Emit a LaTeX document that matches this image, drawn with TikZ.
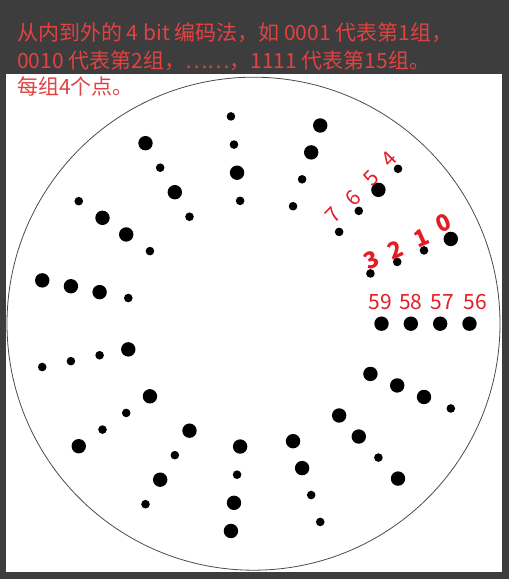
\documentclass[tikz,border=0pt]{standalone}
\usepackage{fontspec}
\setmainfont{Noto Sans CJK SC}
\definecolor{bggray}{RGB}{61,61,61}
\definecolor{notered}{RGB}{226,66,66}
\definecolor{labelred}{RGB}{228,28,36}

\begin{document}
\begin{tikzpicture}[x=1pt,y=1pt,
  note/.style={text=notered,anchor=base west,inner sep=0,font=\fontsize{21}{25}\selectfont},
  lbl/.style={text=labelred,inner sep=0,font=\fontsize{21}{25}\selectfont},
  boldlbl/.style={lbl,font=\fontsize{23}{27}\selectfont\bfseries}]
  \useasboundingbox (0,0) rectangle (509,579);
  \fill[bggray] (0,0) rectangle (509,579);
  \fill[white] (6,7) rectangle (502,505);
  \coordinate (c) at (253.5,255.3);
  \draw[black!70,line width=0.8pt] (c) circle (246.5);
  % 15 groups of 4 dots, inner dot = high bit, big dot = 1
  \foreach \g in {1,...,15}
    \foreach \i in {0,...,3} {
      \pgfmathsetmacro\r{128+29.33*\i}
      \pgfmathsetmacro\px{253.5+\r*cos(24*\g)}
      \pgfmathsetmacro\py{255.3+0.965*\r*sin(24*\g)}
      \pgfmathsetmacro\dotr{4.3+2.9*mod(floor(\g/2^(3-\i)),2)}
      \fill (\px,\py) circle (\dotr);
    }
  \node[note] (line1) at (17,538.5) {从内到外的 4 bit 编码法，如 0001 代表第1组，};
  \node[note] (line2) at (17,510) {0010 代表第2组，……，1111 代表第15组。};
  \node[note] (line3) at (17,484.3) {每组4个点。};
  \foreach \n/\x in {59/380,58/410.8,57/442.5,56/475.2}
    \node[lbl] (n\n) at (\x,276.5) {\n};
  \foreach \n/\x/\y in {7/333.3/364,6/353.3/381,5/371/401,4/389.6/420}
    \node[lbl,rotate=46] (n\n) at (\x,\y) {\n};
  \foreach \n/\x/\y in {3/371.7/319,2/395/329,1/421.7/340.7,0/443.3/355.7}
    \node[boldlbl,rotate=24] (n\n) at (\x,\y) {\n};
\end{tikzpicture}
\end{document}
